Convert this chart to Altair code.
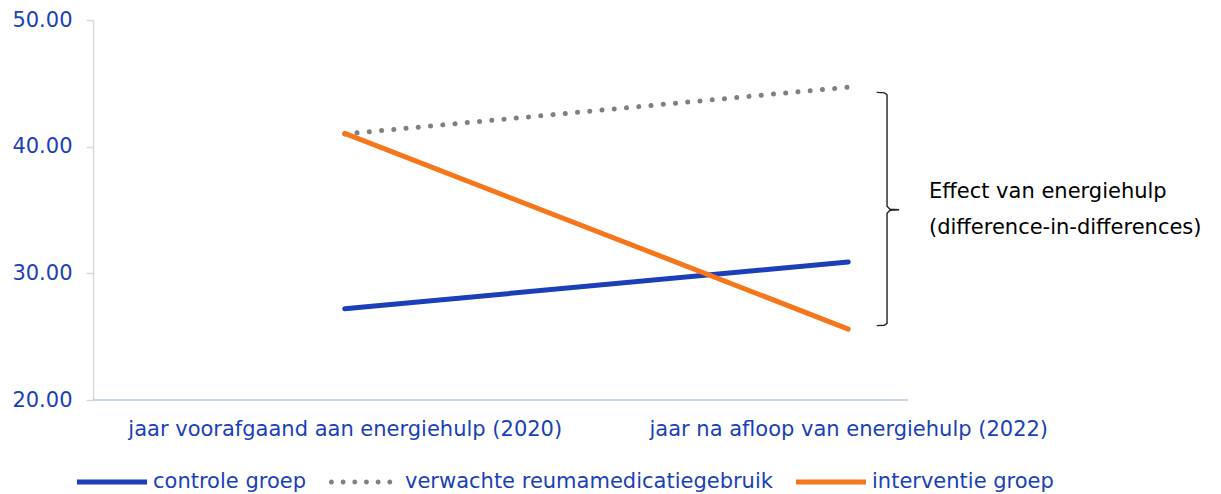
import json
import altair as alt
import pandas as pd

# ---- data ----
categories = ["jaar voorafgaand aan energiehulp (2020)", "jaar na afloop van energiehulp (2022)"]
series = ["controle groep", "verwachte reumamedicatiegebruik", "interventie groep"]
controle = [27.2, 30.9]
verwacht = [41.0, 44.7]
interventie = [41.05, 25.6]
y_ticks = [20, 30, 40, 50]
colors = ["#1a3fb8", "#808080", "#f5761b"]
annotation = ["Effect van energiehulp", "(difference-in-differences)"]

# annotation (brace) in data units
brace_x = [1.5565, 1.572, 1.577, 1.577, 1.583, 1.601, 1.583, 1.577, 1.577, 1.572, 1.5565]
brace_y = [44.29, 44.25, 44.10, 35.30, 35.06, 35.02, 34.98, 34.74, 26.05, 25.90, 25.87]
annot_x = [1.6604, 1.6604]
annot_y = [35.92, 33.08]
axis_line_x = [0.0, 1.619]

FONT = "DejaVu Sans"
BLUE_TXT = "#1a3fb8"
FS = 21

rows = []
for name, vals in zip(series, [controle, verwacht, interventie]):
    for i, (c, v) in enumerate(zip(categories, vals)):
        rows.append({"series": name, "cat": c, "pos": i + 0.5, "value": v})
df = pd.DataFrame(rows)

brace_df = pd.DataFrame({"bx": brace_x, "by": brace_y, "o": list(range(len(brace_x)))})
annot_df = pd.DataFrame({"ax": annot_x, "ay": annot_y, "t": annotation})
axis_df = pd.DataFrame({"x0": [axis_line_x[0]], "x1": [axis_line_x[1]], "y": [y_ticks[0]]})

# legend symbols as custom paths ([-1,1] box scaled to the symbol size)
bar_path = "M-1,-0.07L1,-0.07L1,0.07L-1,0.07Z"
r = 0.07
dot_centers = [-0.93, -0.597, -0.263, 0.07, 0.403, 0.737]
dot_path = "".join(
    f"M{cx - r:.3f},0A{r},{r} 0 1,0 {cx + r:.3f},0A{r},{r} 0 1,0 {cx - r:.3f},0Z" for cx in dot_centers
)
shapes = [bar_path, dot_path, bar_path]

x_scale = alt.Scale(domain=[0, 2], nice=False, zero=False)
y_scale = alt.Scale(domain=[y_ticks[0], y_ticks[-1]], nice=False, zero=False)
# reversed order so this (hidden) legend is not merged with the visible one
stroke_scale = alt.Scale(domain=series[::-1], range=colors[::-1])

x_axis = alt.Axis(
    values=[0.5, 1.5],
    labelExpr=json.dumps(categories) + "[floor(datum.value)]",
    title=None, domain=False, ticks=False, grid=False, labelLimit=1000,
    labelFont=FONT, labelFontSize=FS, labelColor=BLUE_TXT, labelPadding=18,
)
y_axis = alt.Axis(
    values=y_ticks, format=".2f", title=None, grid=False,
    labelFont=FONT, labelFontSize=FS, labelColor=BLUE_TXT, labelPadding=14,
    tickColor="#d9d9d9", tickSize=7, tickWidth=1.5,
    domainColor="#d9d9d9", domainWidth=1.5,
    minExtent=85, maxExtent=85,
)

X = alt.X("pos:Q", scale=x_scale, axis=x_axis)
Y = alt.Y("value:Q", scale=y_scale, axis=y_axis)

axis_line = alt.Chart(axis_df).mark_rule(color="#b4c7e7", strokeWidth=1.5).encode(
    x=alt.X("x0:Q", scale=x_scale, axis=x_axis), x2="x1:Q",
    y=alt.Y("y:Q", scale=y_scale, axis=y_axis),
)

dotted = alt.Chart(df).transform_filter(
    alt.datum.series == series[1]
).mark_line(strokeWidth=5, strokeCap="round", strokeDash=[0.1, 12.2]).encode(
    x=X, y=Y, stroke=alt.Stroke("series:N", scale=stroke_scale, legend=None),
)

solid = alt.Chart(df).transform_filter(
    alt.datum.series != series[1]
).mark_line(strokeWidth=5, strokeCap="round").encode(
    x=X, y=Y, stroke=alt.Stroke("series:N", scale=stroke_scale, legend=None),
    detail="series:N",
)

legend = alt.Legend(
    title=None, orient="none", legendX=-16, legendY=427, direction="horizontal",
    columns=3, columnPadding=23, labelOffset=6, labelFont=FONT, labelFontSize=FS,
    labelColor=BLUE_TXT, symbolSize=4900, symbolStrokeWidth=0, symbolOpacity=1, padding=0,
    labelLimit=1000,
)
legend_pts = alt.Chart(df).mark_point(filled=True, size=4900).encode(
    x=X, y=Y,
    fill=alt.Fill("series:N", scale=alt.Scale(domain=series, range=colors), legend=legend),
    shape=alt.Shape("series:N", scale=alt.Scale(domain=series, range=shapes), legend=legend),
    opacity=alt.value(0),
)

brace = alt.Chart(brace_df).mark_line(color="#222222", strokeWidth=1.4).encode(
    x=alt.X("bx:Q", scale=x_scale, axis=x_axis),
    y=alt.Y("by:Q", scale=y_scale, axis=y_axis),
    order="o:Q",
)

annot = alt.Chart(annot_df).mark_text(
    align="left", baseline="alphabetic", font=FONT, fontSize=21, color="#000000"
).encode(
    x=alt.X("ax:Q", scale=x_scale, axis=x_axis),
    y=alt.Y("ay:Q", scale=y_scale, axis=y_axis),
    text="t:N",
)

chart = alt.layer(axis_line, dotted, solid, legend_pts, brace, annot).properties(
    width=1007, height=380,
    padding={"left": 0, "top": 1, "right": 0, "bottom": 0},
).configure_view(stroke=None)

chart.save("out.html", embed_options={"renderer": "svg", "actions": False})
